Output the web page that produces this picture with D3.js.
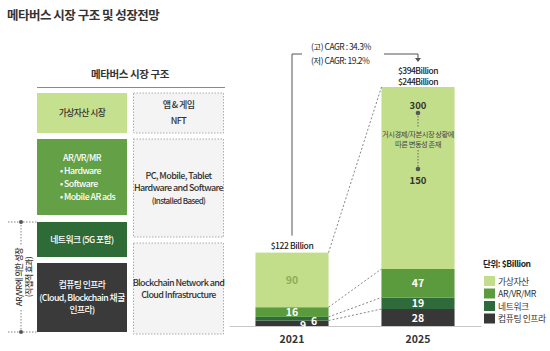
<!DOCTYPE html>
<html>
<head>
<meta charset="utf-8">
<script src="https://cdn.jsdelivr.net/npm/d3@7"></script>
<style>
    body { margin: 0; background: #fff; }
    svg { font-family: "Noto Sans CJK KR", "Noto Sans", sans-serif; display: block; }
</style>
</head>
<body>
<svg id="chart" width="550" height="351"></svg>
<script>
// Chart data
const years = ["2021", "2025"];
const seriesKeys = ["컴퓨팅 인프라", "네트워크", "AR/VR/MR", "가상자산"];
const values2021 = [9, 6, 16, 90];
const values2025 = [28, 19, 47, 300];
const lowVirtual2025 = 150;
const totalLabels = ["$122 Billion", "$394Billion"];
const lowTotalLabel = "$244Billion";
const cagrLabels = ["(고) CAGR : 34.3%", "(저) CAGR: 19.2%"];
const scenarioNote = ["거시경제/자본시장 상황에", "따른 변동성 존재"];
const unitLabel = "단위: $Billion";

// Structure diagram text
const titleText = "메타버스 시장 구조 및 성장전망";
const structTitle = "메타버스 시장 구조";
const leftBoxes = [
    ["가상자산 시장"],
    ["AR/VR/MR", "• Hardware", "• Software", "• Mobile AR ads"],
    ["네트워크 (5G 포함)"],
    ["컴퓨팅 인프라", "(Cloud, Blockchain 채굴", "인프라)"]
];
const rightBoxes = [
    ["앱 & 게임", "NFT"],
    ["PC, Mobile, Tablet", "Hardware and Software", "(Installed Based)"],
    ["Blockchain Network and", "Cloud Infrastructure"]
];
const sideNote = ["AR/VR에 의한 성장", "(직접적 효과)"];

const colors = {
    "가상자산": "#c3de8a",
    "AR/VR/MR": "#5b9b3e",
    "네트워크": "#2f6b3a",
    "컴퓨팅 인프라": "#373737"
};

const svg = d3.select("#chart");

// ---- title ----
svg.append("text")
    .attr("x", 7).attr("y", 20)
    .attr("font-size", 12.5).attr("font-weight", 700)
    .attr("letter-spacing", -0.5)
    .attr("fill", "#333")
    .text(titleText);

// ---- structure diagram ----
svg.append("text")
    .attr("x", 130).attr("y", 78)
    .attr("text-anchor", "middle")
    .attr("font-size", 10.5).attr("font-weight", 700)
    .attr("letter-spacing", -0.4)
    .attr("fill", "#333")
    .text(structTitle);

svg.append("line")
    .attr("x1", 37).attr("x2", 225)
    .attr("y1", 87.5).attr("y2", 87.5)
    .attr("stroke", "#8a8a8a").attr("stroke-width", 1.2);

const leftLayout = [
    { y0: 93, y1: 133, fill: "#c5e08e", color: "#333", lh: 13 },
    { y0: 139, y1: 215, fill: "#63a046", color: "#fff", lh: 13 },
    { y0: 222, y1: 257, fill: "#2f6b36", color: "#fff", lh: 12 },
    { y0: 263, y1: 332, fill: "#3a3a3a", color: "#fff", lh: 12.5 }
];
const rightLayout = [
    { y0: 93, y1: 133, lh: 16 },
    { y0: 139, y1: 237, lh: 12.5 },
    { y0: 243, y1: 334, lh: 12 }
];

const left = svg.append("g");
leftBoxes.forEach((lines, i) => {
    const L = leftLayout[i];
    left.append("rect")
        .attr("x", 37).attr("y", L.y0)
        .attr("width", 90).attr("height", L.y1 - L.y0)
        .attr("fill", L.fill);
    const cy = (L.y0 + L.y1) / 2;
    lines.forEach((t, j) => {
        const bullet = t.startsWith("•");
        left.append("text")
            .attr("x", bullet ? 60 : 82)
            .attr("y", cy + (j - (lines.length - 1) / 2) * L.lh + 3.2)
            .attr("text-anchor", bullet ? "start" : "middle")
            .attr("font-size", 8.8)
            .attr("font-weight", 500)
            .attr("letter-spacing", -0.55)
            .attr("fill", L.color)
            .text(t);
    });
});

const right = svg.append("g");
rightBoxes.forEach((lines, i) => {
    const R = rightLayout[i];
    right.append("rect")
        .attr("x", 133.5).attr("y", R.y0)
        .attr("width", 90).attr("height", R.y1 - R.y0)
        .attr("fill", "#f4f4f4")
        .attr("stroke", "#999").attr("stroke-width", 0.8)
        .attr("stroke-dasharray", "1.5,1.5");
    const cy = (R.y0 + R.y1) / 2;
    lines.forEach((t, j) => {
        const small = t.startsWith("(");
        right.append("text")
            .attr("x", 178.5)
            .attr("y", cy + (j - (lines.length - 1) / 2) * R.lh + 3.2)
            .attr("text-anchor", "middle")
            .attr("font-size", small ? 8 : 9)
            .attr("font-weight", 500)
            .attr("letter-spacing", -0.6)
            .attr("fill", "#333")
            .text(t);
    });
});

// side bracket (AR/VR growth)
const side = svg.append("g").attr("stroke", "#777").attr("stroke-width", 0.9).attr("stroke-dasharray", "1.5,1.5");
side.append("line").attr("x1", 8).attr("x2", 37).attr("y1", 222).attr("y2", 222);
side.append("line").attr("x1", 8).attr("x2", 37).attr("y1", 332).attr("y2", 332);
side.append("line").attr("x1", 21).attr("x2", 21).attr("y1", 222).attr("y2", 245);
side.append("line").attr("x1", 21).attr("x2", 21).attr("y1", 310).attr("y2", 332);
[222, 332].forEach(y => svg.append("circle").attr("cx", 21).attr("cy", y).attr("r", 2).attr("fill", "#555"));
sideNote.forEach((t, i) => {
    svg.append("text")
        .attr("transform", `translate(${21.5 + i * 10},277) rotate(-90)`)
        .attr("text-anchor", "middle")
        .attr("font-size", 8)
        .attr("font-weight", 500)
        .attr("letter-spacing", -0.45)
        .attr("fill", "#333")
        .text(t);
});

// ---- stacked bar chart ----
const table = years.map((y, i) => {
    const row = { year: y };
    const vals = i === 0 ? values2021 : values2025;
    seriesKeys.forEach((k, j) => row[k] = vals[j]);
    return row;
});
const stack = d3.stack().keys(seriesKeys)(table);
const totals = table.map(r => d3.sum(seriesKeys, k => r[k]));

const x = d3.scaleBand().domain(years).range([229, 481]).paddingInner(0.42).paddingOuter(0.21);
const y = d3.scaleLinear().domain([0, d3.max(totals)]).range([326, 87]);
const bw = x.bandwidth();

const chart = svg.append("g");

chart.selectAll("g.layer")
    .data(stack)
    .join("g")
    .attr("class", "layer")
    .attr("fill", d => colors[d.key])
    .selectAll("rect")
    .data(d => d)
    .join("rect")
    .attr("x", d => x(d.data.year))
    .attr("y", d => y(d[1]))
    .attr("width", bw)
    .attr("height", d => y(d[0]) - y(d[1]));

// dotted connectors between bars at every stack boundary
const conn = chart.append("g")
    .attr("stroke", "#666").attr("stroke-width", 0.8).attr("stroke-dasharray", "2,2");
stack.forEach(layer => {
    conn.append("line")
        .attr("x1", x(years[0]) + bw).attr("y1", y(layer[0][1]))
        .attr("x2", x(years[1])).attr("y2", y(layer[1][1]));
});

// axis
const axis = chart.append("g")
    .attr("transform", `translate(0,${y(0)})`)
    .call(d3.axisBottom(x).tickSize(0).tickPadding(10));
axis.select(".domain").attr("stroke", "#c8c8c8").attr("stroke-width", 1.2);
axis.selectAll("text")
    .attr("font-size", 10.5).attr("font-weight", 700)
    .attr("fill", "#333")
    .attr("font-family", "\"Noto Sans CJK KR\", sans-serif");

// segment labels
stack.forEach((layer, li) => {
    layer.forEach((d, yi) => {
        const v = d[1] - d[0];
        if (layer.key === "가상자산" && yi === 1) return;
        const cx = x(d.data.year) + bw / 2;
        let lx = cx, ly = (y(d[0]) + y(d[1])) / 2 + 4;
        const hgt = y(d[0]) - y(d[1]);
        if (hgt < 8) {
            // thin slices: labels sit side by side at the bottom right
            lx = cx + 11 + li * 11;
            ly = y(0) + (li === 0 ? 3 : -1);
        }
        chart.append("text")
            .attr("x", lx).attr("y", ly)
            .attr("text-anchor", "middle")
            .attr("font-size", 10.5).attr("font-weight", 700)
            .attr("fill", layer.key === "가상자산" ? "#8cae5c" : "#fff")
            .text(v);
    });
});

// total labels
const cx21 = x(years[0]) + bw / 2;
const cx25 = x(years[1]) + bw / 2;
chart.append("text")
    .attr("x", cx21).attr("y", y(totals[0]) - 4)
    .attr("text-anchor", "middle")
    .attr("font-size", 8.5).attr("letter-spacing", -0.4).attr("font-weight", 500)
    .attr("fill", "#222")
    .text(totalLabels[0]);
[totalLabels[1], lowTotalLabel].forEach((t, i) => {
    chart.append("text")
        .attr("x", cx25).attr("y", y(totals[1]) - 13 + i * 11)
        .attr("text-anchor", "middle")
        .attr("font-size", 8.5).attr("letter-spacing", -0.5).attr("font-weight", 500)
        .attr("fill", "#222")
        .text(t);
});

// CAGR bracket
const bracketY = 54;
chart.append("path")
    .attr("d", `M${cx21},${y(totals[0]) - 17}V${bracketY}H${cx21 + 10}`)
    .attr("fill", "none").attr("stroke", "#555").attr("stroke-width", 1);
chart.append("path")
    .attr("d", `M${cx25 - 34},${bracketY}H${cx25}V${bracketY + 5}`)
    .attr("fill", "none").attr("stroke", "#555").attr("stroke-width", 1);
chart.append("path")
    .attr("d", `M${cx25 - 3},${bracketY + 4}L${cx25 + 3},${bracketY + 4}L${cx25},${bracketY + 8}Z`)
    .attr("fill", "#555");
cagrLabels.forEach((t, i) => {
    chart.append("text")
        .attr("x", cx21 + 19).attr("y", 50 + i * 14)
        .attr("font-size", 8.5).attr("letter-spacing", -0.5)
        .attr("fill", "#222")
        .text(t);
});

// 2025 virtual asset range annotation
const topY = y(totals[1]);
const ann = chart.append("g");
ann.append("text")
    .attr("x", cx25).attr("y", topY + 22)
    .attr("text-anchor", "middle")
    .attr("font-size", 9.5).attr("font-weight", 700).attr("fill", "#333")
    .text(values2025[3]);
ann.append("text")
    .attr("x", cx25).attr("y", topY + 97)
    .attr("text-anchor", "middle")
    .attr("font-size", 9.5).attr("font-weight", 700).attr("fill", "#333")
    .text(lowVirtual2025);
[topY + 26, topY + 82].forEach(cy => ann.append("circle")
    .attr("cx", cx25).attr("cy", cy).attr("r", 2.3).attr("fill", "#555"));
ann.append("line").attr("x1", cx25).attr("x2", cx25).attr("y1", topY + 26).attr("y2", topY + 40)
    .attr("stroke", "#666").attr("stroke-dasharray", "1.5,1.5");
ann.append("line").attr("x1", cx25).attr("x2", cx25).attr("y1", topY + 63).attr("y2", topY + 82)
    .attr("stroke", "#666").attr("stroke-dasharray", "1.5,1.5");
scenarioNote.forEach((t, i) => {
    ann.append("text")
        .attr("x", cx25).attr("y", topY + 50 + i * 10)
        .attr("text-anchor", "middle")
        .attr("font-size", 7.3).attr("letter-spacing", -0.5)
        .attr("fill", "#444")
        .text(t);
});

// legend
svg.append("text")
    .attr("x", 483).attr("y", 267)
    .attr("font-size", 8.5).attr("font-weight", 700).attr("letter-spacing", -0.4)
    .attr("fill", "#222")
    .text(unitLabel);
const legend = svg.append("g")
    .selectAll("g")
    .data([...seriesKeys].reverse())
    .join("g")
    .attr("transform", (d, i) => `translate(484,${276 + i * 12.5})`);
legend.append("rect")
    .attr("width", 11).attr("height", 10)
    .attr("fill", d => colors[d]);
legend.append("text")
    .attr("x", 14).attr("y", 8.5)
    .attr("font-size", 8.8).attr("letter-spacing", -0.4)
    .attr("fill", "#333")
    .text(d => d);
</script>
</body>
</html>
